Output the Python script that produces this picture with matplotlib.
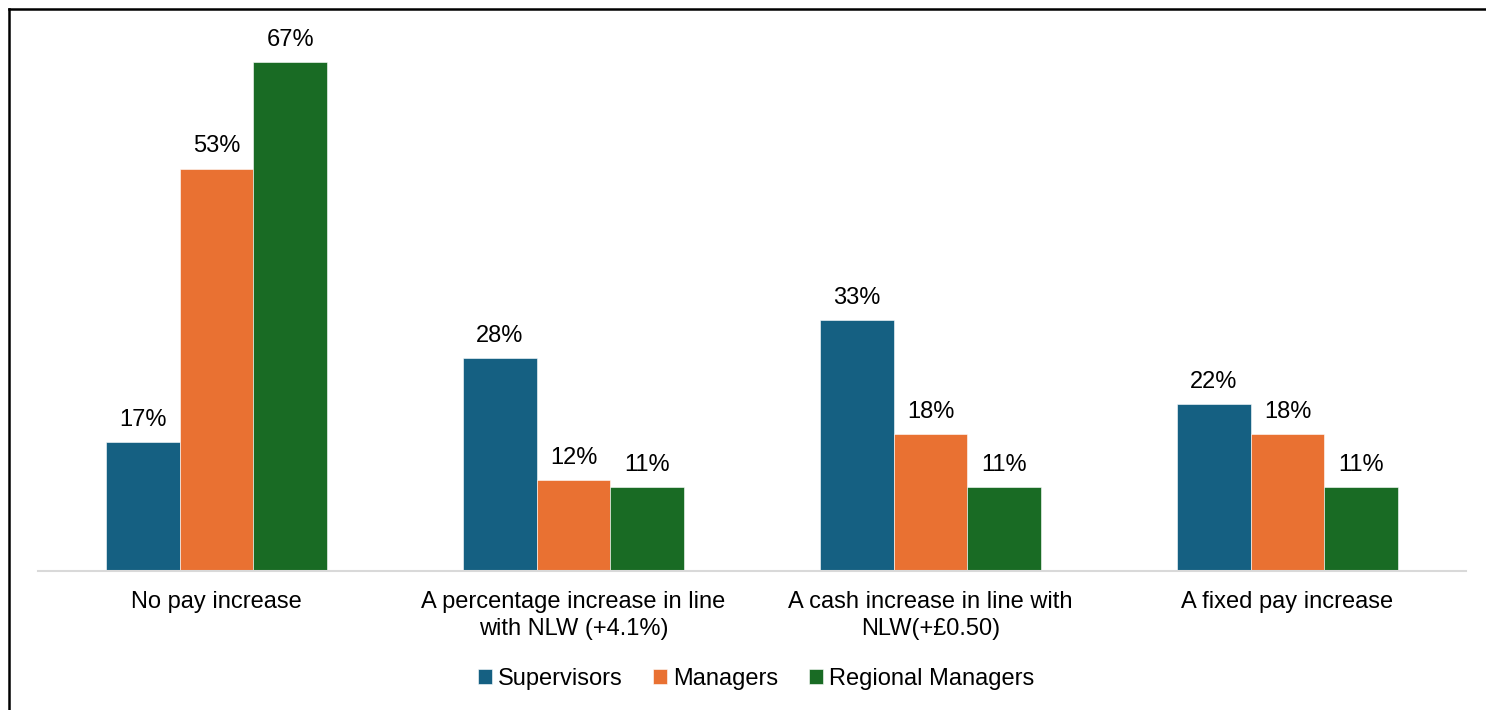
import numpy as np
import matplotlib.pyplot as plt
from matplotlib.lines import Line2D

categories = ['No pay increase',
              'A percentage increase in line\nwith NLW (+4.1%)',
              'A cash increase in line with\nNLW(+£0.50)',
              'A fixed pay increase']
supervisors = [17, 28, 33, 22]
managers = [53, 12, 18, 18]
regional = [67, 11, 11, 11]

plt.rcParams['font.family'] = ['Liberation Sans', 'DejaVu Sans']
plt.rcParams['font.size'] = 17

fig = plt.figure(figsize=(14.86, 7.10), dpi=100)
ax = fig.add_axes([38 / 1486, 1 - 571 / 710, 1428 / 1486, 530 / 710])

index = np.arange(len(categories))
w = 0.207
series = [(supervisors, '#156082', 'Supervisors'),
          (managers, '#E97132', 'Managers'),
          (regional, '#196B24', 'Regional Managers')]
for i, (vals, col, lab) in enumerate(series):
    bars = ax.bar(index + (i - 1) * w, vals, w, color=col, label=lab,
                  edgecolor='white', linewidth=0.4)
    ax.bar_label(bars, labels=[f'{v}%' for v in vals], padding=8,
                 fontsize=17, color='black')

ax.set_xlim(-0.5, 3.5)
ax.set_ylim(0, 69.8)
ax.set_yticks([])
for s in ['top', 'right', 'left']:
    ax.spines[s].set_visible(False)
ax.spines['bottom'].set_color('#D9D9D9')
ax.spines['bottom'].set_linewidth(1.5)
ax.set_xticks(index)
ax.set_xticklabels(categories, linespacing=1.3)
ax.tick_params(axis='x', length=0, pad=14.5)

fig.legend(loc='center', bbox_to_anchor=(756 / 1486, 1 - 679 / 710), ncol=3,
           frameon=False, handlelength=0.6, handleheight=0.6,
           handletextpad=0.25, columnspacing=1.3, fontsize=17)

# outer frame (left and top edges)
fig.add_artist(Line2D([8.5 / 1486, 8.5 / 1486], [0, 1 - 8.5 / 710],
                      color='black', linewidth=1.8, transform=fig.transFigure))
fig.add_artist(Line2D([8.5 / 1486, 1], [1 - 8.5 / 710, 1 - 8.5 / 710],
                      color='black', linewidth=1.8, transform=fig.transFigure))

fig.savefig('out.png', dpi=100)
